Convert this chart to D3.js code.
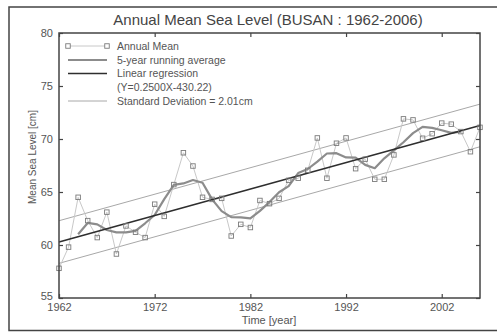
<!DOCTYPE html>
<html>
<head>
<meta charset="utf-8">
<script src="https://cdn.jsdelivr.net/npm/d3@7"></script>
<style>
  html, body { margin: 0; padding: 0; background: #fff; }
  svg { display: block; }
  text { font-family: "Liberation Sans", Arial, sans-serif; }
</style>
</head>
<body>
<div id="chart"></div>
<script>
// Annual mean sea level at Busan, 1962-2006 (cm)
const years = d3.range(1962, 2007);
const annualMean = [
  57.8, 59.8, 64.5, 62.3, 60.7, 63.1, 59.15, 61.8, 61.2, 60.7,
  63.85, 62.7, 65.7, 68.7, 67.45, 64.5, 64.3, 64.4, 60.85, 61.95,
  61.65, 64.2, 63.9, 64.4, 66.1, 66.3, 67.05, 70.1, 66.3, 69.6,
  70.1, 67.2, 68.1, 66.2, 66.2, 68.5, 71.9, 71.8, 70.07, 70.5,
  71.5, 71.4, 70.7, 68.8, 71.1
];
// centred 5-year running average, 1964-2004
const runYears = d3.range(1964, 2005);
const runningAvg = [
  61.02, 62.08, 61.95, 61.41, 61.19, 61.19, 61.34, 62.05, 62.83, 64.33,
  65.68, 65.81, 66.13, 65.87, 64.30, 63.20, 62.63, 62.61, 62.51, 63.22,
  64.05, 64.98, 65.55, 66.79, 67.17, 67.87, 68.63, 68.66, 68.26, 68.24,
  67.56, 67.24, 68.18, 68.92, 69.69, 70.55, 71.15, 71.05, 70.83, 70.58,
  70.70
];
// linear regression Y = 0.2500X - 430.22, standard deviation 2.01 cm
const slope = 0.25;
const intercept = -430.22;
const stdDev = 2.01;
const xTicks = [1962, 1972, 1982, 1992, 2002];
const yTicks = [55, 60, 65, 70, 75, 80];
const legendLabels = [
  "Annual Mean",
  "5-year running average",
  "Linear regression",
  "(Y=0.2500X-430.22)",
  "Standard Deviation = 2.01cm"
];

const W = 497, H = 332;
const m = { left: 59, right: 480, top: 33, bottom: 298 };

const svg = d3.select("#chart").append("svg")
  .attr("width", W).attr("height", H);

// outer frame
svg.append("rect")
  .attr("x", 9).attr("y", 7).attr("width", 492).attr("height", 323.5)
  .attr("fill", "none").attr("stroke", "#444").attr("stroke-width", 1.5);

const x = d3.scaleLinear().domain([1962, 2006]).range([m.left, m.right]);
const y = d3.scaleLinear().domain([55, 80]).range([m.bottom, m.top]);

const g = svg.append("g");

// std-dev band lines
const bandYears = [1962, 2006];
[stdDev, -stdDev].forEach(off => {
  g.append("path")
    .datum(bandYears)
    .attr("fill", "none").attr("stroke", "#a8a8a8").attr("stroke-width", 1)
    .attr("d", d3.line().x(d => x(d)).y(d => y(slope * d + intercept + off)));
});

// annual mean thin line
g.append("path")
  .datum(years.map((yr, i) => [yr, annualMean[i]]))
  .attr("fill", "none").attr("stroke", "#c8c8c8").attr("stroke-width", 1)
  .attr("d", d3.line().x(d => x(d[0])).y(d => y(d[1])));

// running average
g.append("path")
  .datum(runYears.map((yr, i) => [yr, runningAvg[i]]))
  .attr("fill", "none").attr("stroke", "#8c8c8c").attr("stroke-width", 2.2)
  .attr("stroke-linejoin", "round")
  .attr("d", d3.line().x(d => x(d[0])).y(d => y(d[1])));

// regression line
g.append("path")
  .datum(bandYears)
  .attr("fill", "none").attr("stroke", "#2e2e2e").attr("stroke-width", 1.6)
  .attr("d", d3.line().x(d => x(d)).y(d => y(slope * d + intercept)));

// annual mean markers
const sq = 4.5;
g.selectAll("rect.pt")
  .data(years.map((yr, i) => [yr, annualMean[i]]))
  .enter().append("rect")
  .attr("class", "pt")
  .attr("x", d => x(d[0]) - sq / 2).attr("y", d => y(d[1]) - sq / 2)
  .attr("width", sq).attr("height", sq)
  .attr("fill", "none").attr("stroke", "#7a7a7a").attr("stroke-width", 0.9);

// axes with inward ticks on all four sides
const tickLen = 4;
const axisColor = "#444";
const labelColor = "#555";

const axBottom = svg.append("g").attr("transform", `translate(0,${m.bottom})`)
  .call(d3.axisBottom(x).tickValues(xTicks).tickFormat(d3.format("d"))
    .tickSizeInner(-tickLen).tickSizeOuter(0).tickPadding(5));
const axTop = svg.append("g").attr("transform", `translate(0,${m.top})`)
  .call(d3.axisTop(x).tickValues(xTicks).tickFormat("")
    .tickSizeInner(-tickLen).tickSizeOuter(0));
const axLeft = svg.append("g").attr("transform", `translate(${m.left},0)`)
  .call(d3.axisLeft(y).tickValues(yTicks).tickFormat(d3.format("d"))
    .tickSizeInner(-tickLen).tickSizeOuter(0).tickPadding(6));
const axRight = svg.append("g").attr("transform", `translate(${m.right},0)`)
  .call(d3.axisRight(y).tickValues(yTicks).tickFormat("")
    .tickSizeInner(-tickLen).tickSizeOuter(0));

[axBottom, axTop, axLeft, axRight].forEach(a => {
  a.select(".domain").remove();
  a.selectAll(".tick line").attr("stroke", axisColor).attr("stroke-width", 1.2);
  a.selectAll(".tick text").attr("fill", labelColor).style("font-size", "11px");
});
axLeft.selectAll(".tick text").attr("dy", "0.32em");
axLeft.selectAll(".tick").filter(d => d === 55).select("text").attr("dy", "0.1em");

// plot box
svg.append("rect")
  .attr("x", m.left).attr("y", m.top)
  .attr("width", m.right - m.left).attr("height", m.bottom - m.top)
  .attr("fill", "none").attr("stroke", axisColor).attr("stroke-width", 1.5);

// title and axis labels
svg.append("text")
  .attr("x", 268).attr("y", 25).attr("text-anchor", "middle")
  .attr("fill", "#444").style("font-size", "15px")
  .text("Annual Mean Sea Level (BUSAN : 1962-2006)");
svg.append("text")
  .attr("x", 269).attr("y", 324).attr("text-anchor", "middle")
  .attr("fill", labelColor).style("font-size", "11px")
  .text("Time [year]");
svg.append("text")
  .attr("transform", "translate(36,157) rotate(-90)")
  .attr("text-anchor", "middle")
  .attr("fill", labelColor).style("font-size", "10px")
  .text("Mean Sea Level [cm]");

// legend
const lg = svg.append("g");
const lx0 = 68, lx1 = 107, tx = 117;
const rowsY = [46, 60, 73.5, 87, 101];
lg.append("line").attr("x1", lx0).attr("x2", lx1).attr("y1", rowsY[0]).attr("y2", rowsY[0])
  .attr("stroke", "#c8c8c8").attr("stroke-width", 1);
[lx0, lx1].forEach(px => lg.append("rect")
  .attr("x", px - sq / 2).attr("y", rowsY[0] - sq / 2).attr("width", sq).attr("height", sq)
  .attr("fill", "#fff").attr("stroke", "#7a7a7a").attr("stroke-width", 0.9));
lg.append("line").attr("x1", lx0).attr("x2", lx1).attr("y1", rowsY[1]).attr("y2", rowsY[1])
  .attr("stroke", "#8c8c8c").attr("stroke-width", 2.2);
lg.append("line").attr("x1", lx0).attr("x2", lx1).attr("y1", rowsY[2]).attr("y2", rowsY[2])
  .attr("stroke", "#2e2e2e").attr("stroke-width", 1.6);
lg.append("line").attr("x1", lx0).attr("x2", lx1).attr("y1", rowsY[4]).attr("y2", rowsY[4])
  .attr("stroke", "#a8a8a8").attr("stroke-width", 1);
legendLabels.forEach((t, i) => {
  lg.append("text").attr("x", tx).attr("y", rowsY[i]).attr("dy", "0.35em")
    .attr("fill", labelColor).style("font-size", "10.5px").text(t);
});
</script>
</body>
</html>
